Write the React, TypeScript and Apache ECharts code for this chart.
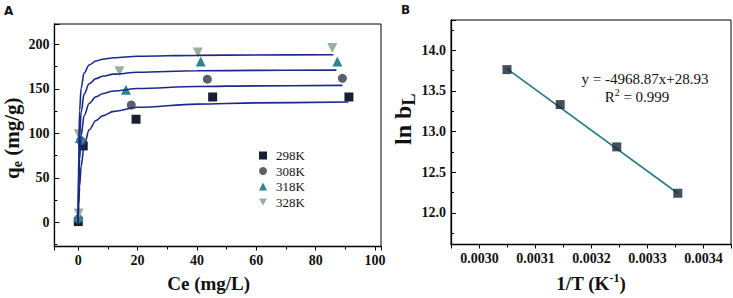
import React, { useEffect, useRef } from "react";
import * as echarts from "echarts";

// ---------- Panel A data (Langmuir isotherms) ----------
const seriesNames = ["298K", "308K", "318K", "328K"];
const ce298 = [0.05, 1.7, 19.5, 45.3, 91.2];
const qe298 = [1, 86, 116, 141, 141];
const ce308 = [0.1, 0.9, 17.9, 43.5, 89.0];
const qe308 = [4, 92, 132, 161, 162];
const ce318 = [0.1, 0.6, 16.1, 41.3, 87.3];
const qe318 = [7, 95, 149, 181, 181];
const ce328 = [0.15, 0.2, 13.9, 40.3, 85.6];
const qe328 = [10, 99, 170, 191, 196];

// fitted curves
const fitCe298 = [0, 0.2, 0.5, 1, 2, 3.7, 6, 8.2, 12, 20, 40, 60, 91];
const fitQe298 = [0, 20, 41, 63, 86, 104, 114.5, 119.8, 124.8, 129.4, 133, 134.4, 135.3];
const fitCe308 = [0, 0.2, 0.5, 1, 2, 3.7, 6, 8.2, 12, 20, 40, 60, 89];
const fitQe308 = [0, 39, 71, 97.6, 119.8, 133.7, 141.2, 144.6, 147.8, 150.6, 152.8, 153.5, 154];
const fitCe318 = [0, 0.2, 0.5, 1, 2, 3.7, 6, 8.2, 12, 20, 40, 60, 87];
const fitQe318 = [0, 59, 97, 124, 144.3, 155.8, 161.6, 164.3, 166.7, 168.8, 170.4, 170.9, 171.2];
const fitCe328 = [0, 0.2, 0.5, 1, 2, 3.7, 6, 8.2, 12, 20, 40, 60, 86];
const fitQe328 = [0, 84, 126, 151, 168, 177, 181.4, 183.4, 185.1, 186.7, 187.8, 188.2, 188.5];

// ---------- Panel B data (van 't Hoff) ----------
const invT = [0.003049, 0.003144, 0.003245, 0.003354];
const lnB = [13.76, 13.33, 12.81, 12.24];
const fitInvT = [0.003049, 0.003354];
const fitLnB = [13.77, 12.24];
const fitEquation = "y = -4968.87x+28.93";
const fitR2 = "0.999";

const colors = ["#18202f", "#5a6069", "#2f8491", "#9aaf9e"];
const INV_TRI = "path://M0,0L10,0L5,9Z";
const symbols = ["rect", "circle", "triangle", INV_TRI];
const SERIF = "Liberation Serif";

const zip = (a: number[], b: number[]) => a.map((v, i) => [v, b[i]]);

const labelRich = {
  l: { fontFamily: SERIF, fontWeight: "bold", fontSize: 14, color: "#111" },
};

function tickLabel(margin: number, digits: number | null) {
  return {
    fontFamily: SERIF,
    fontWeight: "bold",
    fontSize: 14,
    color: "#111",
    margin,
    showMinLabel: false,
    showMaxLabel: false,
    rich: labelRich,
    formatter: (v: number) => "{l|" + (digits === null ? String(v) : v.toFixed(digits)) + "}",
  };
}

function titleRich(main: number, sub: number) {
  return {
    a: { fontFamily: SERIF, fontWeight: "bold", fontSize: main, color: "#111", lineHeight: main + 5 },
    s: { fontFamily: SERIF, fontWeight: "bold", fontSize: sub, color: "#111", lineHeight: sub, verticalAlign: "bottom" },
    p: { fontFamily: SERIF, fontWeight: "bold", fontSize: 12, color: "#111", lineHeight: 12, verticalAlign: "top" },
  };
}

function baseAxis(extra: any, rich: any, pad: number[] = [0, 0, 0, 0]) {
  return {
    type: "value",
    splitLine: { show: false },
    axisLine: { show: true, onZero: false, lineStyle: { color: "#000", width: 1.3 } },
    nameTextStyle: { rich, fontFamily: SERIF, fontWeight: "bold", fontSize: 19, color: "#111", padding: pad },
    nameLocation: "middle",
    ...extra,
  };
}

export default function App() {
  const ref = useRef<HTMLDivElement>(null);

  useEffect(() => {
    if (!ref.current) return;
    const chart = echarts.init(ref.current, undefined, { renderer: "svg" });

    const ceArr = [ce298, ce308, ce318, ce328];
    const qeArr = [qe298, qe308, qe318, qe328];
    const fitCe = [fitCe298, fitCe308, fitCe318, fitCe328];
    const fitQe = [fitQe298, fitQe308, fitQe318, fitQe328];

    const series: any[] = [];
    fitCe.forEach((c, i) => {
      series.push({
        type: "line",
        name: "fit" + i,
        xAxisIndex: 0,
        yAxisIndex: 0,
        data: zip(c, fitQe[i]),
        showSymbol: false,
        smooth: 0.35,
        smoothMonotone: "x",
        lineStyle: { color: "#1a2a8a", width: 1.6 },
        z: 3,
      });
    });
    seriesNames.forEach((n, i) => {
      series.push({
        type: "scatter",
        name: n,
        xAxisIndex: 0,
        yAxisIndex: 0,
        data: zip(ceArr[i], qeArr[i]),
        symbol: symbols[i],
        symbolSize: i >= 2 ? 10 : 9,
        itemStyle: { color: colors[i], opacity: 1 },
        z: 2,
      });
    });
    series.push({
      type: "line",
      name: "fitB",
      xAxisIndex: 1,
      yAxisIndex: 1,
      data: zip(fitInvT, fitLnB),
      showSymbol: false,
      lineStyle: { color: "#2a7d84", width: 1.6 },
      z: 2,
    });
    series.push({
      type: "scatter",
      name: "lnbL",
      xAxisIndex: 1,
      yAxisIndex: 1,
      data: zip(invT, lnB),
      symbol: "rect",
      symbolSize: 9,
      itemStyle: { color: "#172233" },
      z: 3,
    });

    const tick = { inside: false, length: 4, lineStyle: { color: "#000" } };
    const tickIn = { inside: true, length: 5, lineStyle: { color: "#000" } };
    const minor = { show: true, splitNumber: 2, length: 3, lineStyle: { color: "#000" } };

    const option: any = {
      animation: false,
      backgroundColor: "#fff",
      textStyle: { fontFamily: SERIF },
      grid: [
        { left: 53, top: 24, width: 328, height: 224.5, show: true, borderColor: "#000", borderWidth: 1 },
        { left: 451, top: 20, width: 280, height: 226, show: true, borderColor: "#000", borderWidth: 1 },
      ],
      xAxis: [
        baseAxis(
          {
            gridIndex: 0,
            min: -8,
            max: 102,
            splitNumber: 5,
            axisTick: tick,
            minorTick: minor,
            axisLabel: tickLabel(7, null),
            name: "{a|Ce (mg/L)}",
            nameGap: 25,
          },
          titleRich(19, 13),
          [0, 18, 0, 0]
        ),
        baseAxis(
          {
            gridIndex: 1,
            min: 0.002949,
            max: 0.003449,
            splitNumber: 5,
            axisTick: tick,
            minorTick: minor,
            axisLabel: tickLabel(7, 4),
            name: "{a|1/T (K}{p|-1}{a|)}",
            nameGap: 27,
          },
          titleRich(19, 13)
        ),
      ],
      yAxis: [
        baseAxis(
          {
            gridIndex: 0,
            min: -27,
            max: 223,
            splitNumber: 5,
            axisTick: tickIn,
            minorTick: { ...minor, inside: true },
            axisLabel: tickLabel(5, null),
            name: "{a|q}{s|e}{a| (mg/g)}",
            nameGap: 29,
            nameRotate: 90,
          },
          titleRich(21, 14),
          [0, 6, 0, 0]
        ),
        baseAxis(
          {
            gridIndex: 1,
            min: 11.61,
            max: 14.37,
            splitNumber: 5,
            axisTick: tickIn,
            minorTick: { ...minor, inside: true },
            axisLabel: tickLabel(5, 1),
            name: "{a|ln b}{s|L}",
            nameGap: 28,
            nameRotate: 90,
          },
          titleRich(24, 18),
          [0, 0, 0, 26]
        ),
      ],
      legend: {
        orient: "vertical",
        left: 254,
        top: 144,
        itemWidth: 8,
        itemHeight: 8,
        itemGap: 2.5,
        selectedMode: false,
        textStyle: { fontFamily: SERIF, fontSize: 13, color: "#111", padding: [0, 0, 0, 4] },
        data: seriesNames.map((n, i) => ({ name: n, icon: symbols[i] })),
      },
      graphic: [
        {
          type: "text",
          left: 4,
          top: 5,
          style: { text: "A", font: "bold 12px 'DejaVu Sans', sans-serif", fill: "#111" },
        },
        {
          type: "text",
          left: 401,
          top: 4,
          style: { text: "B", font: "bold 12px 'DejaVu Sans', sans-serif", fill: "#111" },
        },
        {
          type: "text",
          x: 645,
          y: 79,
          style: {
            text: fitEquation,
            fontFamily: SERIF,
            fontSize: 15,
            fill: "#111",
            align: "center",
            verticalAlign: "middle",
          },
        },
        {
          type: "text",
          x: 637,
          y: 97,
          style: {
            text: "{a|R}{p|2}{a| = " + fitR2 + "}",
            align: "center",
            verticalAlign: "middle",
            rich: {
              a: { fontFamily: SERIF, fontSize: 15, fill: "#111", lineHeight: 20 },
              p: { fontFamily: SERIF, fontSize: 10, fill: "#111", lineHeight: 10, verticalAlign: "top" },
            },
          },
        },
      ],
      series,
    };

    chart.setOption(option);
    return () => chart.dispose();
  }, []);

  return (
    <div
      ref={ref}
      style={{ position: "fixed", left: 0, top: 0, width: 733, height: 298, background: "#fff" }}
    />
  );
}
